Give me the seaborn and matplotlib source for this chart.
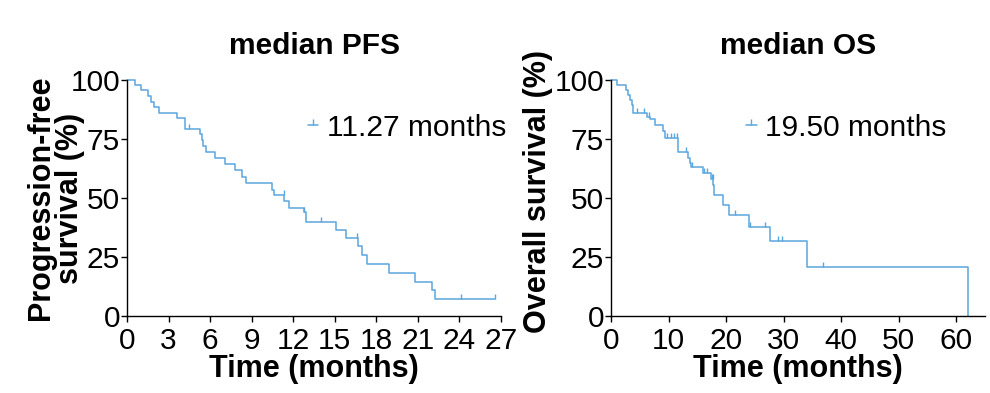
import matplotlib
matplotlib.use("Agg")
import matplotlib.pyplot as plt
from matplotlib.lines import Line2D
import pandas as pd
import seaborn as sns

# Kaplan-Meier steps (time in months, survival in %)
pfs_times = [0, 0.58, 1.0, 1.5, 1.74, 1.98, 2.34, 3.64, 4.15, 5.28, 5.43, 5.52, 5.69,
             6.37, 7.09, 7.81, 8.3, 8.61, 10.5, 10.64, 11.31, 11.72, 12.76, 12.92,
             15.1, 15.8, 16.65, 16.98, 17.3, 18.9, 20.77, 22.05, 22.22]
pfs_surv = [100, 97.9, 95.6, 93.2, 90.8, 88.4, 86.2, 83.8, 79.2, 77.0, 74.6, 72.2, 69.4,
            66.8, 64.3, 61.9, 59.0, 56.5, 53.5, 51.3, 48.7, 45.9, 43.9, 40.0,
            36.6, 33.2, 29.7, 25.8, 21.9, 18.4, 14.5, 11.0, 7.3]
pfs_cens_t = [4.5, 11.3, 12.8, 13.97, 16.6, 24.1, 26.56]
pfs_cens_s = [79.2, 51.3, 43.9, 40.0, 33.2, 7.3, 7.3]

os_times = [0, 1.1, 2.6, 3.0, 3.3, 3.6, 3.9, 6.2, 6.8, 7.7, 9.0, 9.3, 11.6, 13.4,
            13.7, 13.95, 15.9, 17.4, 17.7, 17.9, 19.5, 20.5, 24.0, 27.6, 34.0, 62.0]
os_surv = [100, 97.9, 95.8, 93.7, 91.6, 89.5, 86.2, 84.4, 83.3, 80.9, 78.2, 75.6, 69.4, 66.8,
           64.7, 63.3, 60.5, 58.0, 55.7, 51.3, 47.0, 42.7, 37.9, 31.6, 20.9, 0.0]
os_cens_t = [4.6, 5.8, 6.6, 9.7, 10.4, 11.0, 11.5, 13.0, 14.0, 16.2, 16.6, 17.5, 17.7,
             21.6, 24.1, 26.7, 29.1, 29.7, 36.9]
os_cens_s = [86.2, 86.2, 84.4, 75.6, 75.6, 75.6, 75.6, 69.4, 63.3, 60.5, 60.5, 58.0, 58.0,
             42.7, 37.9, 37.9, 31.6, 31.6, 20.9]

titles = ["median PFS", "median OS"]
ylabels = ["Progression-free\nsurvival (%)", "Overall survival (%)"]
medians = ["11.27 months", "19.50 months"]
x_ticks = [list(range(0, 28, 3)), list(range(0, 61, 10))]
x_limits = [27, 65]
y_ticks = [0, 25, 50, 75, 100]

sns.set_style("ticks")
plt.rcParams["font.family"] = ["Liberation Sans", "DejaVu Sans"]
plt.rcParams["text.color"] = "black"
plt.rcParams["axes.labelcolor"] = "black"
plt.rcParams["xtick.color"] = "black"
plt.rcParams["ytick.color"] = "black"

color = "#5aa6de"
fs = 21.5

fig = plt.figure(figsize=(9.9, 3.93), dpi=100)
ax1 = fig.add_axes([0.1283, 0.1959, 0.3778, 0.6005])
ax2 = fig.add_axes([0.6172, 0.1959, 0.3778, 0.6005])

curves = [
    (pfs_times, pfs_surv, pfs_cens_t, pfs_cens_s),
    (os_times, os_surv, os_cens_t, os_cens_s),
]
legend_x = [0.484, 0.361]
ylabel_pos = [(-0.112, 0.5), (-0.155, 0.527)]

for i, ax in enumerate([ax1, ax2]):
    t, s, ct, cs = curves[i]
    # extend the last step to the last censored patient
    line_t = list(t)
    line_s = list(s)
    if max(ct) > line_t[-1]:
        line_t.append(max(ct))
        line_s.append(line_s[-1])
    df = pd.DataFrame({"time": line_t, "surv": line_s})
    sns.lineplot(data=df, x="time", y="surv", ax=ax, color=color, linewidth=1.1,
                 drawstyle="steps-post", estimator=None, sort=False, clip_on=False)
    cens = pd.DataFrame({"time": ct, "surv": cs})
    sns.scatterplot(data=cens, x="time", y="surv", ax=ax, marker=2, s=12,
                    color=color, linewidth=1.0, clip_on=False)

    ax.set_xlim(0, x_limits[i])
    ax.set_ylim(0, 100)
    ax.set_xticks(x_ticks[i])
    ax.set_yticks(y_ticks)
    ax.tick_params(axis="both", labelsize=fs, width=1.0, length=4, color="black",
                   labelcolor="black")
    ax.tick_params(axis="x", pad=4)
    ax.tick_params(axis="y", pad=1)
    for side in ["top", "right"]:
        ax.spines[side].set_visible(False)
    for side in ["left", "bottom"]:
        ax.spines[side].set_linewidth(1.0)
        ax.spines[side].set_color("black")

    ax.set_title(titles[i], fontsize=fs, fontweight="bold", pad=19, color="black")
    ax.set_xlabel("Time (months)", fontsize=fs + 0.5, fontweight="bold", labelpad=-1,
                  color="black")
    ax.set_ylabel(ylabels[i], fontsize=fs + 0.5, fontweight="bold", linespacing=0.95,
                  color="black")
    ax.yaxis.set_label_coords(*ylabel_pos[i])

    handle = Line2D([0], [0], color=color, linewidth=1.1, marker=2, markersize=4,
                    markeredgewidth=1.0)
    leg = ax.legend([handle], [medians[i]], loc="center left",
                    bbox_to_anchor=(legend_x[i], 0.797), frameon=False, fontsize=fs,
                    handlelength=0.35, handletextpad=0.3, borderpad=0, borderaxespad=0)
    for txt in leg.get_texts():
        txt.set_color("black")

fig.savefig("out.png", dpi=100)
plt.close(fig)
